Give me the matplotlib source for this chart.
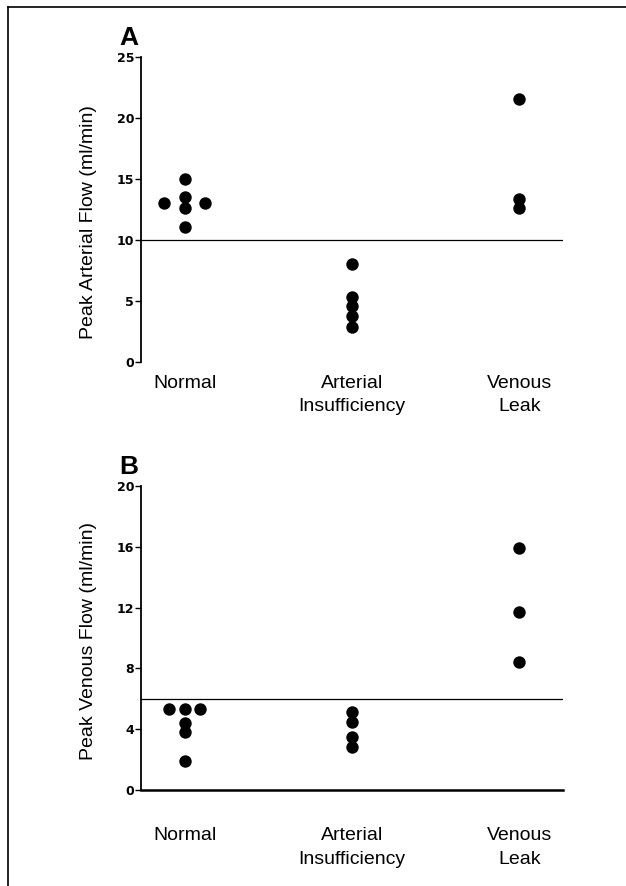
import matplotlib
matplotlib.use("Agg")
import matplotlib.pyplot as plt
import numpy as np

plt.rcParams['font.family'] = ['Liberation Sans', 'DejaVu Sans']

# Data
groups = ["Normal", "Arterial\nInsufficiency", "Venous\nLeak"]

arterial_flow = [
    [13.0, 15.0, 13.5, 12.6, 11.1, 13.0],   # Normal
    [8.0, 5.3, 4.6, 3.8, 2.9],              # Arterial insufficiency
    [21.6, 13.4, 12.6],                     # Venous leak
]
arterial_jitter = [
    [-1, 0, 0, 0, 0, 1],
    [0, 0, 0, 0, 0],
    [0, 0, 0],
]
arterial_cutoff = 10

venous_flow = [
    [5.3, 5.3, 5.3, 4.4, 3.8, 1.9],
    [5.1, 4.5, 3.5, 2.8],
    [15.9, 11.7, 8.4],
]
venous_jitter = [
    [-1, 0, 1, 0, 0, 0],
    [0, 0, 0, 0],
    [0, 0, 0],
]
venous_cutoff = 6

fig = plt.figure(figsize=(6.26, 8.86), dpi=100)

# outer frame (top and left edges only, like the scanned page)
fig.add_artist(plt.Line2D([8 / 626, 1.0], [1 - 7 / 886, 1 - 7 / 886], color='black', lw=1.2))
fig.add_artist(plt.Line2D([8 / 626, 8 / 626], [0, 1 - 7 / 886], color='black', lw=1.2))


def draw_panel(ax, values, jitter, cutoff, ymax, yticks, ylabel, jit_w, bottom_spine, xpad, label_y):
    for i, (vals, jit) in enumerate(zip(values, jitter)):
        xs = i + np.array(jit) * jit_w
        ax.scatter(xs, vals, s=80, color='black', zorder=3, linewidths=0)
    ax.plot([-0.26, 2.26], [cutoff, cutoff], color='black', lw=0.9)
    ax.set_xlim(-0.26, 2.26)
    ax.set_ylim(0, ymax)
    ax.set_yticks(yticks)
    ax.set_xticks(range(len(groups)))
    ax.set_xticklabels(groups, fontsize=14, linespacing=1.5)
    ax.tick_params(axis='x', length=0, pad=xpad)
    ax.tick_params(axis='y', direction='out', length=4, width=1, pad=1)
    for lab in ax.get_yticklabels():
        lab.set_family('DejaVu Sans')
        lab.set_fontweight('bold')
        lab.set_fontsize(9)
    for side in ['top', 'right']:
        ax.spines[side].set_visible(False)
    ax.spines['bottom'].set_visible(bottom_spine)
    ax.spines['left'].set_linewidth(1.3)
    ax.spines['bottom'].set_linewidth(1.8)
    ax.set_ylabel(ylabel, fontsize=14)
    ax.yaxis.set_label_coords(-0.105, label_y)


axA = fig.add_axes([0.2252, 0.5914, 0.674, 0.3442])
draw_panel(axA, arterial_flow, arterial_jitter, arterial_cutoff, 25, [0, 5, 10, 15, 20, 25],
           "Peak Arterial Flow (ml/min)", 0.125, False, 9, 0.46)

axB = fig.add_axes([0.2252, 0.1084, 0.674, 0.3431])
draw_panel(axB, venous_flow, venous_jitter, venous_cutoff, 20, [0, 4, 8, 12, 16, 20],
           "Peak Venous Flow (ml/min)", 0.09, True, 27, 0.49)

fig.text(129 / 626, 1 - 38 / 886, "A", fontsize=19, fontweight='bold', ha='center', va='center')
fig.text(129 / 626, 1 - 467 / 886, "B", fontsize=19, fontweight='bold', ha='center', va='center')

fig.savefig("out.png", dpi=100)
